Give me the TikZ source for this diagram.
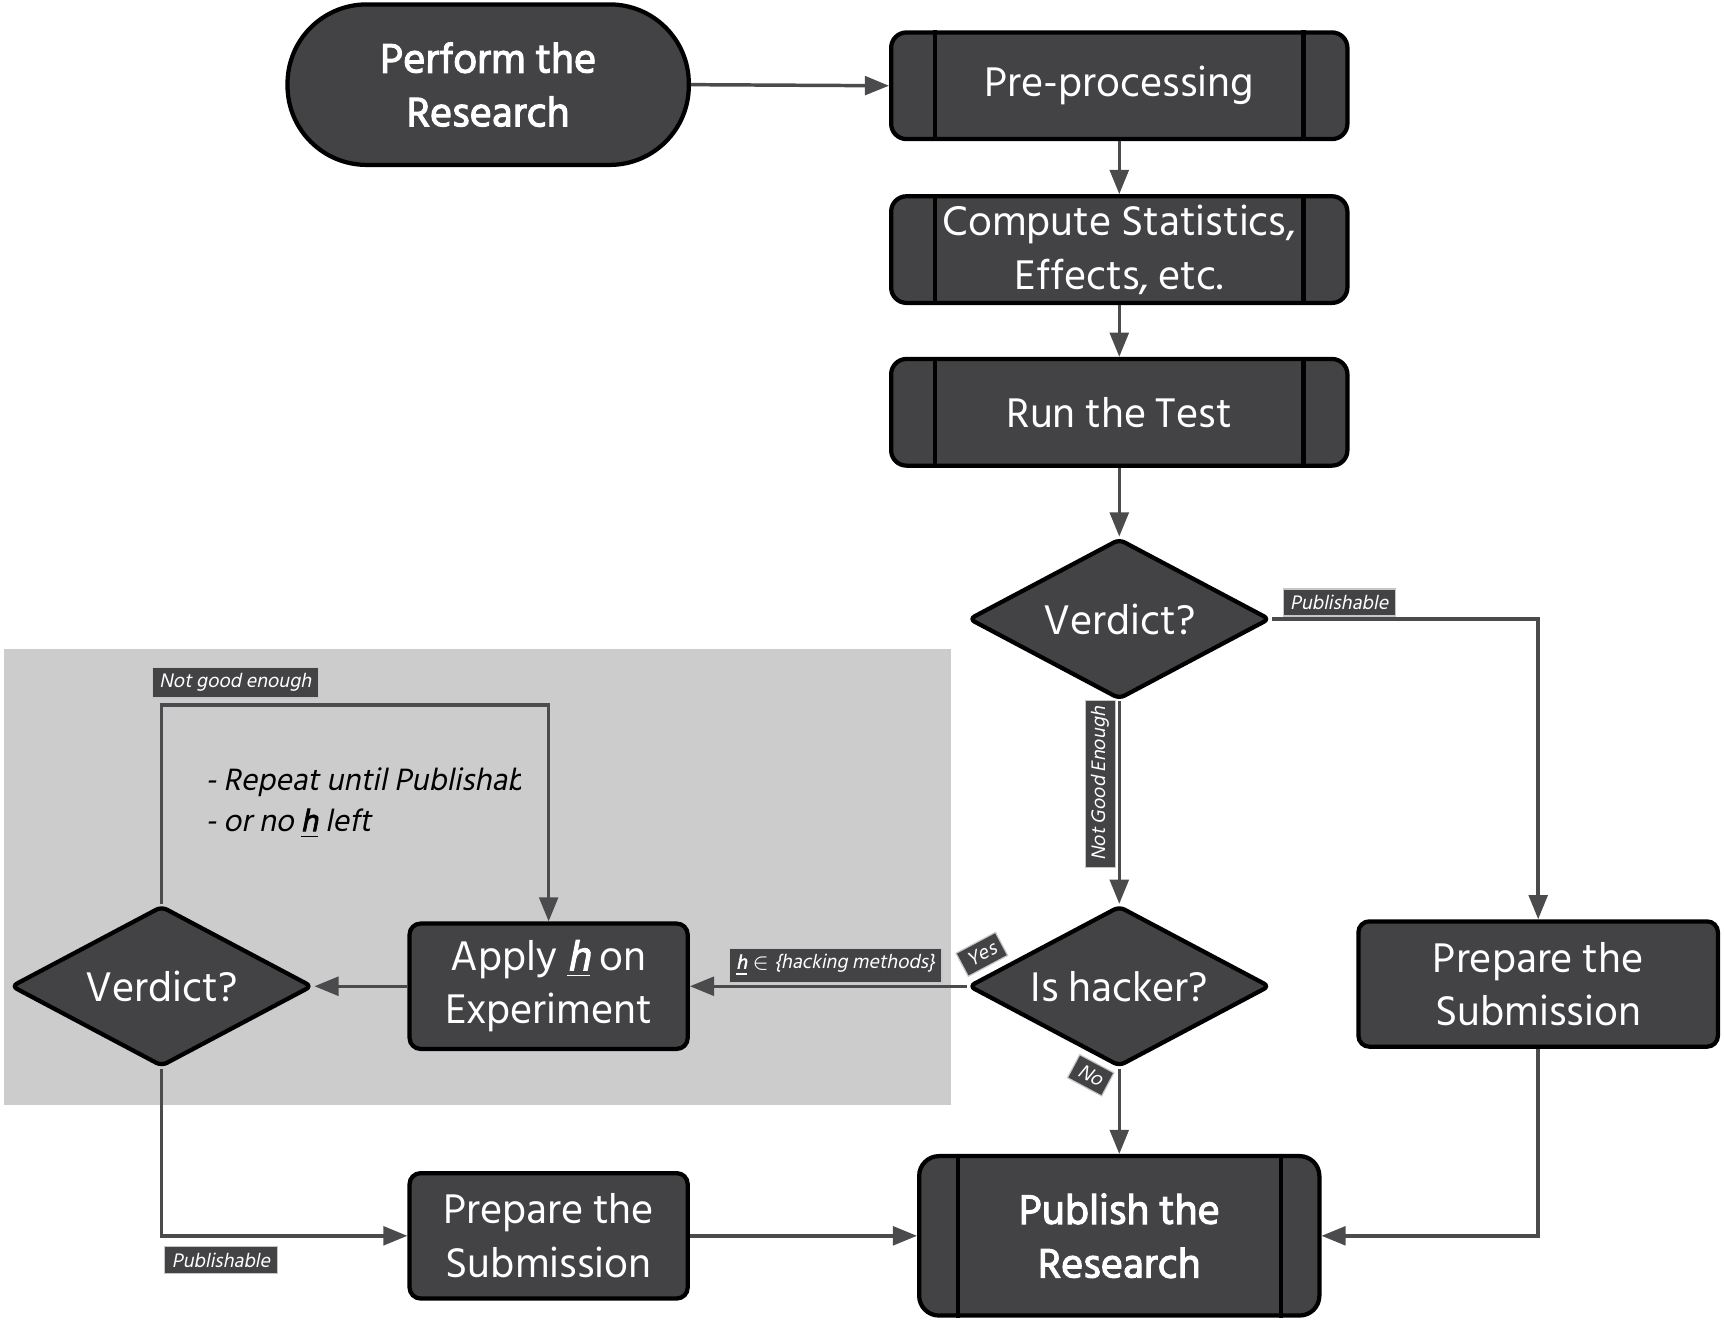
\documentclass[tikz,border=0pt]{standalone}
\usepackage{fontspec}
\setmainfont{Hind Siliguri}[AutoFakeSlant=0.2,AutoFakeBold=2.5]
\usepackage{tikz}
\usetikzlibrary{positioning,shapes.geometric,arrows.meta}

\definecolor{nodegray}{RGB}{67,67,69}
\definecolor{linegray}{RGB}{75,75,77}
\definecolor{backgray}{RGB}{204,204,204}

\begin{document}
\begin{tikzpicture}[x=0.1mm, y=-0.1mm, >={Triangle[length=2.2mm,width=1.7mm]},
    box/.style={draw=black, line width=1.1pt, fill=nodegray, text=white, align=center,
                rounded corners=1.4mm, inner sep=0pt, font=\fontsize{11}{13.9}\selectfont},
    proc/.style={box, minimum width=41.5mm, minimum height=9.7mm},
    act/.style={box, minimum width=25.3mm, minimum height=11.4mm, rounded corners=1mm},
    decide/.style={box, diamond, aspect=1.875, minimum width=27.4mm, minimum height=14.6mm, rounded corners=1.5pt},
    conn/.style={->, draw=linegray, line width=0.9pt},
    lbl/.style={fill=nodegray, draw=gray!45, line width=0.3pt, text=white, inner xsep=1.8pt, inner ysep=1.6pt,
                font=\fontsize{5.2}{6}\selectfont\itshape},
    note/.style={align=left, inner sep=0pt, font=\fontsize{8.2}{10.4}\selectfont\itshape}
    ]
    \useasboundingbox (0,0) rectangle (1568,1200);
    \fill[backgray] (4,590) rectangle (865,1005);

    \node[box, minimum width=36.5mm, minimum height=14.6mm, rounded corners=7.2mm,
          font=\fontsize{11}{13.9}\selectfont\bfseries] (start) at (444,77) {Perform the\\Research};
    \node[proc] (pre) at (1018,78) {Pre-processing};
    \node[proc] (stats) at (1018,227) {Compute Statistics,\\Effects, etc.};
    \node[proc] (test) at (1018,375) {Run the Test};
    \node[decide] (verdict) at (1018,563) {Verdict?};
    \node[decide] (hacker) at (1018,897) {Is hacker?};
    \node[act, minimum width=32.7mm] (prepR) at (1399,895) {Prepare the\\Submission};
    \node[box, minimum width=36.4mm, minimum height=14.5mm, rounded corners=1.8mm,
          font=\fontsize{11}{13.9}\selectfont\bfseries] (publish) at (1018,1124) {Publish the\\Research};
    \node[act] (apply) at (499,897) {Apply \underline{\textbf{\textit{h}}} on\\Experiment};
    \node[decide, minimum width=27.4mm] (verdict2) at (147,897) {Verdict?};
    \node[act] (prepL) at (499,1124) {Prepare the\\Submission};

    \foreach \n in {pre,stats,test} {
        \draw[line width=1.1pt] ([xshift=4.2mm]\n.north west) -- ([xshift=4.2mm]\n.south west);
        \draw[line width=1.1pt] ([xshift=-4.2mm]\n.north east) -- ([xshift=-4.2mm]\n.south east);
    }
    \draw[line width=1.1pt] ([xshift=3.7mm]publish.north west) -- ([xshift=3.7mm]publish.south west);
    \draw[line width=1.1pt] ([xshift=-3.7mm]publish.north east) -- ([xshift=-3.7mm]publish.south east);

    \draw[conn] (start.east) -- (pre.west);
    \draw[conn] (pre) -- (stats);
    \draw[conn] (stats) -- (test);
    \draw[conn] (test) -- (verdict);
    \draw[conn] (verdict.east) -| (prepR.north);
    \draw[conn] (verdict) -- (hacker);
    \draw[conn] (hacker) -- (publish);
    \draw[conn] (prepR.south) |- (publish.east);
    \draw[conn] (hacker.west) -- (apply.east);
    \draw[conn] (apply.west) -- (verdict2.east);
    \coordinate (loop) at (499,641);
    \draw[conn] (verdict2.north) |- (loop) -- (apply.north);
    \draw[conn] (verdict2.south) |- (prepL.west);
    \draw[conn] (prepL.east) -- (publish.west);

    \node[lbl] (pubR) at (1218,548) {Publishable};
    \node[lbl, rotate=90] (notgood) at (1001,713) {Not Good Enough};
    \node[lbl, rotate=28] (yes) at (893,868) {Yes};
    \node[lbl, rotate=-28] (no) at (992,978) {No};
    \node[lbl] (hset) at (760,878) {\underline{\textbf{h}} $\in$ \{hacking methods\}};
    \node[lbl] (notgood2) at (214,621) {Not good enough};
    \node[lbl] (pubL) at (201,1146) {Publishable};

    \begin{scope}
        \clip (150,680) rectangle (473,780);
        \node[note, anchor=north west] (note) at (186,698) {- Repeat until Publishable\\- or no \underline{\textbf{h}} left};
    \end{scope}
\end{tikzpicture}
\end{document}
